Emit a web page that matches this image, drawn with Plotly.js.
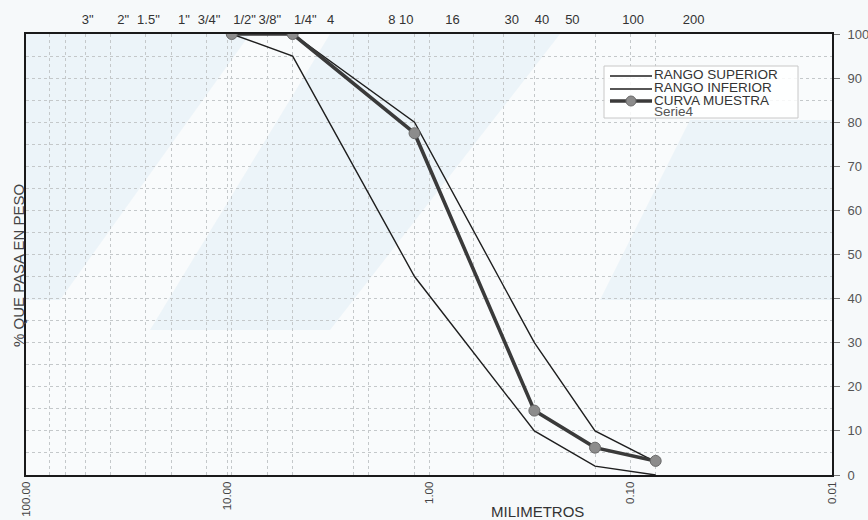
<!DOCTYPE html>
<html>
<head>
<meta charset="utf-8">
<script src="https://cdn.plot.ly/plotly-3.0.1.min.js"></script>
<style>
html,body{margin:0;padding:0;background:#f6f9fa;}
#chart{width:868px;height:520px;}
</style>
</head>
<body>
<div id="chart"></div>
<script>
// Sieve sizes (mm) and their labels on the top axis
const sieveMm = [76.2, 50.8, 38.1, 25.4, 19.05, 12.7, 9.525, 6.35, 4.75, 2.36, 2.0, 1.18, 0.6, 0.425, 0.3, 0.15, 0.075];
const sieveLabels = ['3"', '2"', '1.5"', '1"', '3/4"', '1/2"', '3/8"', '1/4"', '4', '8', '10', '16', '30', '40', '50', '100', '200'];
// extra grid line (2.5")
const extraGridMm = [63.5];

// Bottom axis decades
const decadeVals = [100, 10, 1, 0.1, 0.01];
const decadeLabels = ['100.00', '10.00', '1.00', '0.10', '0.01'];

// Curves (abertura mm, % que pasa)
const curveMm = [9.525, 4.75, 1.18, 0.3, 0.15, 0.075];
const rangoSuperior = [100, 100, 80, 30, 10, 3];
const rangoInferior = [100, 95, 45, 10, 2, 0];
const curvaMuestra = [100, 100, 77.5, 14.6, 6.2, 3.2];

const legendNames = ['RANGO SUPERIOR', 'RANGO INFERIOR', 'CURVA MUESTRA', 'Serie4'];

const FONT = 'Arial, "Liberation Sans", sans-serif';
const topShift = 0.1886; // top labels drawn offset as in original

const traces = [
  {x: curveMm, y: rangoSuperior, type: 'scatter', mode: 'lines', name: legendNames[0],
   line: {color: '#1e1e1e', width: 1.4}, showlegend: false},
  {x: curveMm, y: rangoInferior, type: 'scatter', mode: 'lines', name: legendNames[1],
   line: {color: '#1e1e1e', width: 1.4}, showlegend: false},
  {x: curveMm, y: curvaMuestra, type: 'scatter', mode: 'lines+markers', name: legendNames[2],
   line: {color: '#3a3a3a', width: 3.6},
   marker: {size: 11, color: '#8c8c8c', line: {color: '#6a6a6a', width: 1}}, showlegend: false},
  // helper trace so the top sieve axis is drawn
  {x: sieveMm, y: sieveMm.map(() => null), xaxis: 'x2', yaxis: 'y', type: 'scatter', mode: 'lines',
   showlegend: false, hoverinfo: 'skip'}
];

const gridC = '#c4c8ca';

// legend drawn as box + samples (paper coords)
const px = v => (v - 26) / 806;
const py = v => (475 - v) / 441;

const band = 'rgba(205,228,240,0.28)';
const shapes = [
  // faint watermark bands
  {type: 'path', xref: 'paper', yref: 'paper', layer: 'below', line: {width: 0}, fillcolor: band,
   path: `M ${px(26)} ${py(34)} L ${px(250)} ${py(34)} L ${px(60)} ${py(300)} L ${px(26)} ${py(300)} Z`},
  {type: 'path', xref: 'paper', yref: 'paper', layer: 'below', line: {width: 0}, fillcolor: band,
   path: `M ${px(330)} ${py(34)} L ${px(560)} ${py(34)} L ${px(330)} ${py(330)} L ${px(150)} ${py(330)} Z`},
  {type: 'path', xref: 'paper', yref: 'paper', layer: 'below', line: {width: 0}, fillcolor: band,
   path: `M ${px(690)} ${py(120)} L ${px(832)} ${py(120)} L ${px(832)} ${py(300)} L ${px(600)} ${py(300)} Z`},
  // legend box
  {type: 'rect', xref: 'paper', yref: 'paper', x0: px(604), x1: px(798), y0: py(118), y1: py(66),
   line: {color: '#c8c8c8', width: 1}, fillcolor: 'rgba(255,255,255,0.85)'},
  {type: 'line', xref: 'paper', yref: 'paper', x0: px(610), x1: px(652), y0: py(76), y1: py(76),
   line: {color: '#1e1e1e', width: 1.4}},
  {type: 'line', xref: 'paper', yref: 'paper', x0: px(610), x1: px(652), y0: py(89), y1: py(89),
   line: {color: '#1e1e1e', width: 1.4}},
  {type: 'line', xref: 'paper', yref: 'paper', x0: px(610), x1: px(652), y0: py(101), y1: py(101),
   line: {color: '#3a3a3a', width: 3.6}},
  {type: 'circle', xref: 'paper', yref: 'paper', xsizemode: 'pixel', ysizemode: 'pixel',
   xanchor: px(631), yanchor: py(101), x0: -5, x1: 5, y0: -5, y1: 5,
   fillcolor: '#8c8c8c', line: {color: '#6a6a6a', width: 1}}
];

const annotations = [
  {text: '% QUE PASA EN PESO', xref: 'paper', yref: 'paper', x: px(18), y: py(266),
   textangle: -90, showarrow: false, xanchor: 'center', yanchor: 'middle',
   font: {family: FONT, size: 15, color: '#444'}},
  {text: 'MILIMETROS', xref: 'paper', yref: 'paper', x: px(537), y: py(511),
   showarrow: false, xanchor: 'center', yanchor: 'middle',
   font: {family: FONT, size: 15, color: '#333'}}
];
const legendY = [75, 87.5, 100, 112];
legendNames.forEach((n, i) => {
  annotations.push({text: n, xref: 'paper', yref: 'paper', x: px(652), y: py(legendY[i]),
    showarrow: false, xanchor: 'left', yanchor: 'middle',
    font: {family: FONT, size: 13.5, color: i === 3 ? '#555' : '#333'}});
});

const layout = {
  width: 868, height: 520,
  margin: {l: 26, r: 36, t: 34, b: 45, pad: 0},
  paper_bgcolor: '#f6f9fa',
  plot_bgcolor: 'rgba(255,255,255,0.35)',
  showlegend: false,
  font: {family: FONT, color: '#333'},
  xaxis: {
    type: 'log', range: [2, -2], autorange: false,
    tickvals: decadeVals, ticktext: decadeLabels, tickangle: -90,
    tickfont: {family: FONT, size: 11.5, color: '#444'},
    ticks: '', ticklabelstandoff: 0,
    showgrid: true, gridcolor: gridC, gridwidth: 1, griddash: 'dot',
    minor: {tickvals: sieveMm.concat(extraGridMm), showgrid: true, gridcolor: gridC, gridwidth: 1, griddash: 'dot', ticks: ''},
    showline: true, linecolor: '#1a1a1a', linewidth: 2, mirror: true,
    zeroline: false
  },
  xaxis2: {
    type: 'log', overlaying: 'x', side: 'top', anchor: 'y',
    range: [2 + topShift, -2 + topShift], autorange: false,
    tickvals: sieveMm, ticktext: sieveLabels,
    tickfont: {family: FONT, size: 13, color: '#333'},
    ticks: '', ticklabelstandoff: 6,
    showgrid: false, showline: false, zeroline: false
  },
  yaxis: {
    side: 'right', range: [0, 100], autorange: false,
    tickvals: [0, 10, 20, 30, 40, 50, 60, 70, 80, 90, 100],
    ticks: 'outside', ticklen: 6, tickcolor: '#777', tickwidth: 1,
    ticklabelstandoff: 5,
    tickfont: {family: FONT, size: 13, color: '#555'},
    showgrid: true, gridcolor: gridC, gridwidth: 1, griddash: 'dot',
    minor: {dtick: 5, showgrid: true, gridcolor: gridC, gridwidth: 1, griddash: 'dot', ticks: ''},
    showline: true, linecolor: '#1a1a1a', linewidth: 2, mirror: true,
    zeroline: false
  },
  shapes: shapes,
  annotations: annotations
};

Plotly.newPlot('chart', traces, layout, {displayModeBar: false, staticPlot: true});
</script>
</body>
</html>
